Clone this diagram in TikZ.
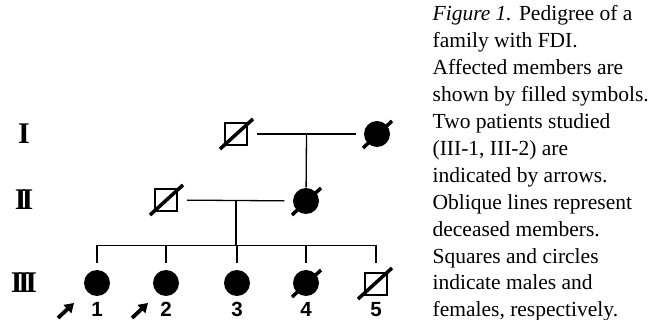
\documentclass[tikz,border=0pt]{standalone}
\usepackage{fontspec}
\setmainfont{Liberation Serif}
\newfontfamily\digitfont{Liberation Sans}
\usetikzlibrary{calc,arrows.meta}

\begin{document}
\begin{tikzpicture}[x=1pt,y=-1pt,line width=1.3pt,
  male/.style={draw,line width=2pt,minimum size=22pt,inner sep=0pt},
  female/.style={circle,fill,minimum size=26pt,inner sep=0pt},
  dead/.style={line width=3.5pt},
  gen/.style={font=\fontsize{30}{30}\selectfont\bfseries},
  num/.style={anchor=base,inner sep=0pt,font=\digitfont\fontsize{20.5}{20}\selectfont\bfseries},
  capline/.style={anchor=base west,inner sep=0pt,font=\fontsize{21.5}{26}\selectfont},
  patient/.style={line width=3.8pt,-{Triangle[length=9pt,width=11pt]}}]

\useasboundingbox (0,0) rectangle (654,320);

%Generazioni
\node[gen] (gI) at (24,134) {I};
\node[gen] (gII) at (24,200) {I\kern-5ptI};
\node[gen] (gIII) at (24,283) {I\kern-4.5ptI\kern-4.5ptI};

%I
\node[male] (i1) at (236,134) {};
\node[female] (i2) at (377,134) {};
\draw[shorten <=9pt,shorten >=7pt] (i1) -- (i2);
\coordinate (mI) at ($(i1)!.5!(i2)$);
\draw[dead] ($(i1)+(-16,15)$) -- ($(i1)+(17,-15)$);
\draw[dead] ($(i2)+(-14,14)$) -- ($(i2)+(15,-13)$);

%II
\node[male] (ii1) at (166,200) {};
\node[female] (ii2) at (306,201) {};
\draw (mI) -- (ii2);
\draw[shorten <=9pt,shorten >=8pt] (ii1) -- (ii2);
\coordinate (mII) at ($(ii1)!.5!(ii2)$);
\draw[dead] ($(ii1)+(-16,15)$) -- ($(ii1)+(17,-15)$);
\draw[dead] ($(ii2)+(-14,14)$) -- ($(ii2)+(15,-13)$);

%III
\node[female] (iii1) at (97,283) {};
\node[female] (iii2) at (166,283) {};
\node[female] (iii3) at (237,283) {};
\node[female] (iii4) at (306,283) {};
\node[male] (iii5) at (376,284) {};
\draw[dead] ($(iii4)+(-14,14)$) -- ($(iii4)+(15,-13)$);
\draw[dead] ($(iii5)+(-18,15)$) -- ($(iii5)+(16,-16)$);

\coordinate (s) at ($(mII)+(0,45)$);
\draw (mII) -- (s);
\draw (s -| iii1) -- (s -| iii5);
\foreach \k in {1,...,5}
  \draw (s -| iii\k) -- ++(0,18);

\foreach \k in {1,...,5}
  \node[num] (n\k) at ($(iii\k |- 0,317)$) {\k};

%probandi
\coordinate (a1) at (58,318);
\coordinate (b1) at (74,303);
\coordinate (a2) at (132,318);
\coordinate (b2) at (148,303);
\draw[patient] (a1) -- (b1);
\draw[patient] (a2) -- (b2);

%didascalia
\foreach \txt [count=\i] in {{\textit{Figure 1.} Pedigree of a},
  {family with FDI.},{Affected members are},{shown by filled symbols.},
  {Two patients studied},{(III-1, III-2) are},{indicated by arrows.},
  {Oblique lines represent},{deceased members.},{Squares and circles},
  {indicate males and},{females, respectively.}}
  \node[capline] (c\i) at (432,{21+26.9*(\i-1)}) {\txt};

\end{tikzpicture}
\end{document}
